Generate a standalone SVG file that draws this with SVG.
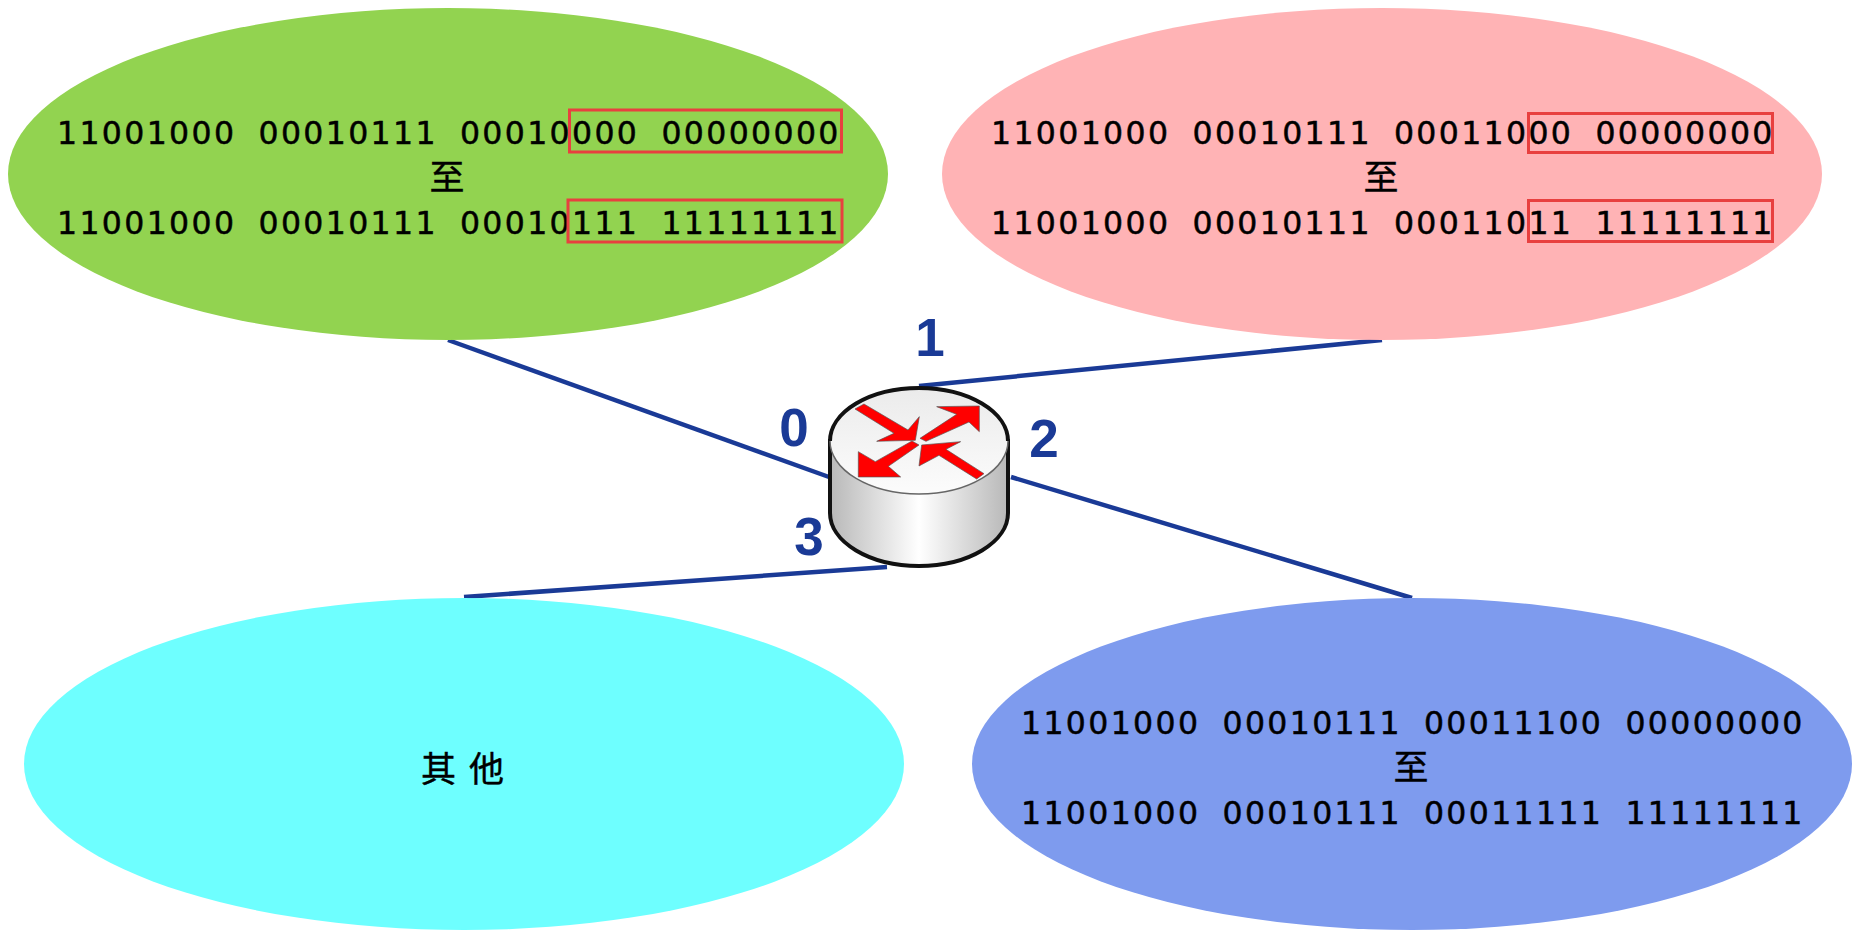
<svg xmlns="http://www.w3.org/2000/svg" width="1863" height="938" viewBox="0 0 1863 938">
<defs>
<linearGradient id="side" x1="0" x2="1" y1="0" y2="0"><stop offset="0" stop-color="#b8b8b8"/><stop offset="0.5" stop-color="#ffffff"/><stop offset="1" stop-color="#b8b8b8"/></linearGradient>
<linearGradient id="top" x1="0" x2="0" y1="0" y2="1"><stop offset="0" stop-color="#ebebeb"/><stop offset="1" stop-color="#fcfcfc"/></linearGradient>
</defs>
<style>
.t{font-family:"DejaVu Sans",sans-serif;font-size:31.5px;fill:#000;stroke:#000;stroke-width:.5px;letter-spacing:2.38px;word-spacing:9.7px}
.c{font-family:"Noto Sans CJK SC",sans-serif;font-size:35px;fill:#000;stroke:#000;stroke-width:.4px;text-anchor:middle}
.n{font-family:"Liberation Sans",Arial,sans-serif;font-weight:bold;font-size:53px;fill:#1a3a96;text-anchor:middle}
.b{fill:none;stroke:#e8403f;stroke-width:3}
.a{fill:#ff0000;stroke:#555;stroke-width:2}
.l{stroke:#1a3a96;stroke-width:4.5;fill:none}
</style>
<rect width="1863" height="938" fill="#fff"/>
<g id="connectors">
<line class="l" x1="448" y1="340" x2="829" y2="477"/>
<line class="l" x1="1382" y1="340" x2="919" y2="386"/>
<line class="l" x1="1011" y1="477" x2="1412" y2="598"/>
<line class="l" x1="464" y1="597" x2="887" y2="567"/>
</g>
<g id="net0"><ellipse cx="448" cy="174" rx="440" ry="166" fill="#92d350"/>
<text class="t" x="57" y="144">11001000 00010111 00010000 00000000</text><text class="c" x="447" y="190">至</text><text class="t" x="57" y="234">11001000 00010111 00010111 11111111</text>
<rect class="b" x="569.5" y="110" width="272" height="42"/><rect class="b" x="568" y="200" width="274" height="42"/></g>
<g id="net1"><ellipse cx="1382" cy="174" rx="440" ry="166" fill="#ffb3b5"/>
<text class="t" x="991" y="144">11001000 00010111 00011000 00000000</text><text class="c" x="1381" y="190">至</text><text class="t" x="991" y="234">11001000 00010111 00011011 11111111</text>
<rect class="b" x="1528.500" y="113.500" width="244" height="39"/><rect class="b" x="1528.500" y="200.500" width="244" height="41"/></g>
<g id="net2"><ellipse cx="1412" cy="764" rx="440" ry="166" fill="#7e9bee"/>
<text class="t" x="1021" y="734">11001000 00010111 00011100 00000000</text><text class="c" x="1411" y="780">至</text><text class="t" x="1021" y="824">11001000 00010111 00011111 11111111</text></g>
<g id="net3"><ellipse cx="464" cy="764" rx="440" ry="166" fill="#6effff"/>
<text class="c" x="421" y="782" style="text-anchor:start;letter-spacing:13px">其他</text></g>
<g id="router">
<path d="M830 441V513A89 53 0 0 0 1008 513V441Z" fill="url(#side)" stroke="#111" stroke-width="4"/>
<ellipse cx="919" cy="441.500" rx="89" ry="53" fill="url(#top)" stroke="none"/>
<path d="M830 441A89 53 0 0 1 1008 441" fill="none" stroke="#111" stroke-width="4"/>
<path d="M830 441A89 53 0 0 0 1008 441" fill="none" stroke="#666" stroke-width="1.500"/>
<g transform="translate(800 300) scale(.3333)">
<polygon class="a" points="165,327 192,312 324,390 358,350 346,421 230,424 282,400"/>
<polygon class="a" points="360,415 470,343 410,320 538,318 538,395 507,366 378,424"/>
<polygon class="a" points="336,423 357,435 265,499 302,531 175,531 175,455 226,485"/>
<polygon class="a" points="552,521 530,537 417,466 357,498 365,435 482,425 438,448"/>
</g>
</g>
<g id="labels">
<text class="n" x="930" y="356">1</text><text class="n" x="794" y="446">0</text><text class="n" x="1044" y="457">2</text><text class="n" x="809" y="555">3</text>
</g>
</svg>
